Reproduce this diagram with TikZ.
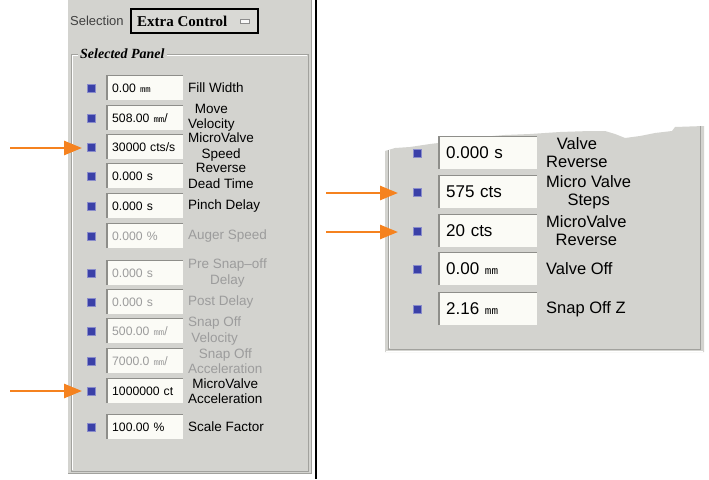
\documentclass[tikz,border=0pt]{standalone}
\usepackage{fontspec}
\setmainfont{Liberation Sans}
\newfontfamily\serifbf{Liberation Serif}
\newfontfamily\monof{Liberation Mono}
\usetikzlibrary{arrows.meta}
\definecolor{panelgray}{HTML}{D3D3CF}
\definecolor{fieldwhite}{HTML}{FBFBF6}
\definecolor{etchdark}{HTML}{A2A29E}
\definecolor{chkblue}{HTML}{3A40A8}
\definecolor{dimtext}{HTML}{9C9C9C}
\definecolor{arroworange}{HTML}{F5821F}
\definecolor{sunken}{HTML}{8E8E8A}
\definecolor{ddfill}{HTML}{D9D9D5}
\newcommand\mmu{{\monof\fontsize{9}{9}\selectfont mm}}
\newcommand\mmur{{\monof\fontsize{11}{11}\selectfont mm}}
\tikzset{
  chkbox/.style={fill=chkblue, minimum size=7.5pt, inner sep=0pt, draw=chkblue!60!white, line width=0.5pt},
  lfield/.style={anchor=west, fill=fieldwhite, minimum width=76pt, minimum height=24pt, inner xsep=5pt, inner ysep=0pt, text width=66pt, align=left, font=\fontsize{12.2}{13}\selectfont},
  rfield/.style={anchor=west, fill=fieldwhite, minimum width=98pt, minimum height=32pt, inner xsep=7pt, inner ysep=0pt, text width=84pt, align=left, font=\fontsize{17}{18}\selectfont},
  llabel/.style={anchor=west, align=center, inner sep=0pt, font=\fontsize{13.5}{15.5}\selectfont},
  rlabel/.style={anchor=west, align=center, inner sep=0pt, font=\fontsize{16.5}{18}\selectfont},
  sunk/.style={draw=sunken, line width=1.2pt},
  etch/.style={draw=etchdark, line width=1pt},
  etchlight/.style={draw=white, line width=0.8pt},
  orarrow/.style={draw=arroworange, line width=2.6pt, -{Triangle[width=14pt,length=18pt]}},
}
\newcommand\lrow[5]{%
  \node[chkbox] (c#1) at (91,#2) {};
  \node[lfield, text=#5] (f#1) at (107,#2) {\mbox{#3}};
  \draw[sunk] (f#1.south west) -- (f#1.north west) -- (f#1.north east);
  \node[llabel, text=#5] (l#1) at (188,#2) {#4};
}
\newcommand\rrow[4]{%
  \node[chkbox] (rc#1) at (417,#2) {};
  \node[rfield] (rf#1) at (439,#2) {\mbox{#3}};
  \draw[sunk] (rf#1.south west) -- (rf#1.north west) -- (rf#1.north east);
  \node[rlabel] (rl#1) at (546,#2) {#4};
}
\begin{document}
\begin{tikzpicture}[x=1pt,y=-1pt]
\useasboundingbox (0,0) rectangle (709,479);
\fill[white] (0,0) rectangle (709,479);
% ---------- left panel ----------
\fill[panelgray] (68,0) rectangle (312,474);
\draw[etchdark, line width=1pt] (311,0) -- (311,473) -- (68,473);
\draw[black, line width=1.5pt] (316,0) -- (316,479);
% group frame
\draw[etch] (78,54) -- (71,54) -- (71,471) -- (308,471) -- (308,54) -- (167,54);
\draw[etchlight] (78,55.2) -- (72.2,55.2) -- (72.2,469.8);
\draw[etchlight] (167,55.2) -- (306.8,55.2);
\node[anchor=west, inner sep=0pt, font=\serifbf\bfseries\itshape\fontsize{14}{14}\selectfont] (gtitle) at (80,54) {Selected Panel};
% selection
\node[anchor=west, inner sep=0pt, text=black!75, font=\fontsize{13}{13}\selectfont] (sellab) at (70,21) {Selection};
\node[draw=black, line width=2pt, fill=ddfill, minimum width=127pt, minimum height=24pt, inner sep=0pt] (dd) at (194,20.5) {};
\node[anchor=west, inner sep=0pt, font=\serifbf\bfseries\fontsize{15}{15}\selectfont] (ddtext) at (137,21) {Extra Control};
\node[fill=white!85!ddfill, draw=black!45, line width=0.5pt, minimum width=9pt, minimum height=4pt, inner sep=0pt] (ddbtn) at (244.5,21.5) {};
% rows
\lrow{1}{88}{0.00 \mmu}{Fill Width}{black}
\lrow{2}{118}{508.00 \mmu/}{Move\\Velocity}{black}
\lrow{3}{147}{30000 cts/s}{MicroValve\\Speed}{black}
\lrow{4}{176}{0.000 s}{Reverse\\Dead Time}{black}
\lrow{5}{206}{0.000 s}{Pinch Delay}{black}
\lrow{6}{236}{0.000 \%}{Auger Speed}{dimtext}
\lrow{7}{273}{0.000 s}{Pre Snap--off\\Delay}{dimtext}
\lrow{8}{302}{0.000 s}{Post Delay}{dimtext}
\lrow{9}{331}{500.00 \mmu/}{Snap Off\\Velocity}{dimtext}
\lrow{10}{361}{7000.0 \mmu/}{Snap Off\\Acceleration}{dimtext}
\lrow{11}{391}{1000000 ct}{MicroValve\\Acceleration}{black}
\lrow{12}{427}{100.00 \%}{Scale Factor}{black}
% ---------- right panel ----------
\fill[panelgray] (385,352) -- (385,151) -- (395,148) -- (410,147) -- (430,144) -- (455,141) -- (480,137) -- (505,135) -- (530,134) -- (560,132) -- (590,131) -- (605,131) -- (615,134) -- (625,138) -- (640,136) -- (655,133) -- (672,131) -- (675,127) -- (704,126) -- (704,352) -- cycle;
\draw[etch] (388,150) -- (388,349) -- (700,349) -- (700,126);
\draw[etchlight] (389.5,150) -- (389.5,347.5);
\draw[etchlight] (386,351) -- (703,351);
\rrow{1}{153}{0.000 s}{Valve\\Reverse}
\rrow{2}{192}{575 cts}{Micro Valve\\Steps}
\rrow{3}{231}{20 cts}{MicroValve\\Reverse}
\rrow{4}{269}{0.00 \mmur}{Valve Off}
\rrow{5}{309}{2.16 \mmur}{Snap Off Z}
% ---------- arrows ----------
\coordinate (a1) at (10,148);
\coordinate (a2) at (10,391);
\coordinate (a3) at (326,193);
\coordinate (a4) at (326,232);
\draw[orarrow, shorten >=5pt] (a1) -- (c3.west |- a1);
\draw[orarrow, shorten >=5pt] (a2) -- (c11.west |- a2);
\draw[orarrow, shorten >=15pt] (a3) -- (rc2.west |- a3);
\draw[orarrow, shorten >=15pt] (a4) -- (rc3.west |- a4);
\end{tikzpicture}
\end{document}
